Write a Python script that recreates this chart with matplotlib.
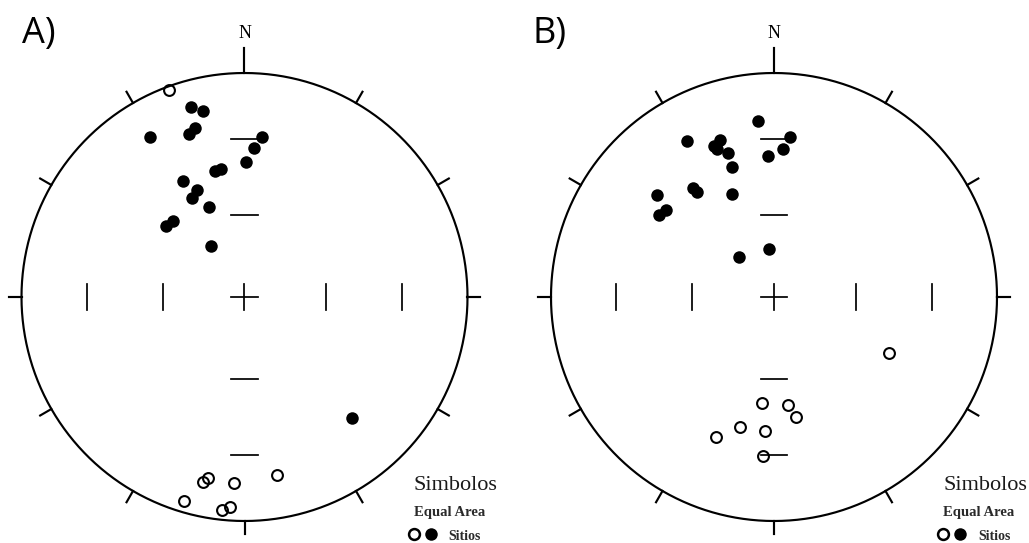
import numpy as np
import matplotlib
matplotlib.use("Agg")
import matplotlib.pyplot as plt

# ---------------- data (declination, inclination in degrees) ----------------
# positive inclination -> lower hemisphere (filled), negative -> upper (open)
dec_A = [344.1, 347.3, 329.3, 341.1, 343.7, 6.1, 3.7, 0.6, 346.7, 349.7,
         332.2, 336.0, 331.9, 338.2, 312.0, 316.6, 326.1, 138.2,
         340.0, 192.8, 191.3, 183.2, 169.5, 196.6, 186.1, 184.0]
inc_A = [13.0, 15.9, 18.1, 23.9, 22.6, 28.8, 33.9, 39.4, 41.6, 41.4,
         40.9, 46.8, 48.4, 54.3, 50.7, 51.3, 67.8, 28.3,
         -1.8, -16.4, -18.5, -17.9, -20.1, -5.6, -5.1, -6.9]

dec_B = [354.9, 5.7, 3.4, 357.4, 330.8, 338.2, 340.9, 339.0, 342.3, 342.2,
         311.1, 323.2, 323.5, 337.8, 305.5, 308.8, 319.0, 354.0,
         186.6, 172.7, 169.7, 194.7, 183.9, 202.5, 184.1, 115.8]
inc_B = [22.4, 29.0, 34.0, 37.1, 21.4, 28.2, 26.9, 29.8, 33.1, 38.8,
         31.2, 39.0, 41.4, 49.0, 36.8, 37.7, 70.5, 72.5,
         -50.6, -49.9, -44.6, -39.7, -40.0, -32.7, -29.4, -42.2]

panel_labels = ["A)", "B)"]
north_label = "N"
legend_title = "Simbolos"
legend_sub = "Equal Area"
legend_item = "Sitios"
grid_incs = [30, 60]          # inclination marks on the axes
rim_ticks = np.arange(0, 360, 30)


def proj(dec, inc):
    dec = np.radians(np.asarray(dec, float))
    inc = np.radians(np.abs(np.asarray(inc, float)))
    r = np.sqrt(2.0) * np.sin((np.pi / 2 - inc) / 2.0)
    return r * np.sin(dec), r * np.cos(dec)


W, H = 1029, 543
fig = plt.figure(figsize=(W / 100, H / 100), dpi=100)

centers = [(244.5, 297), (774.0, 297)]
Rx, Ry = 223, 224
datasets = [(dec_A, inc_A), (dec_B, inc_B)]

LW_RIM = 1.55
LW = 1.25
for (cx, cy), (dec, inc), lab in zip(centers, datasets, panel_labels):
    ax = fig.add_axes([(cx - Rx) / W, (H - cy - Ry) / H, 2 * Rx / W, 2 * Ry / H])
    ax.set_xlim(-1, 1)
    ax.set_ylim(-1, 1)
    ax.axis("off")

    # primitive circle
    t = np.linspace(0, 2 * np.pi, 721)
    ax.plot(np.cos(t), np.sin(t), color="black", lw=LW_RIM, clip_on=False, zorder=2)

    # rim ticks
    for az in rim_ticks:
        a = np.radians(az)
        L = 0.112 if az == 0 else 0.058
        ax.plot([np.sin(a), (1 + L) * np.sin(a)], [np.cos(a), (1 + L) * np.cos(a)],
                color="black", lw=LW_RIM, clip_on=False, zorder=2)

    # center cross
    h = 0.06
    ax.plot([-h, h], [0, 0], color="black", lw=LW, zorder=2)
    ax.plot([0, 0], [-h, h], color="black", lw=LW, zorder=2)
    # inclination marks
    for gi in grid_incs:
        r = np.sqrt(2.0) * np.sin(np.radians(90 - gi) / 2.0)
        for s in (-1, 1):
            ax.plot([s * r, s * r], [-h, h], color="black", lw=LW, zorder=2)
            ax.plot([-h, h], [s * r, s * r], color="black", lw=LW, zorder=2)

    # data
    dec = np.asarray(dec)
    inc = np.asarray(inc)
    x, y = proj(dec, inc)
    low = inc >= 0
    ax.plot(x[low], y[low], "o", color="black", ms=9, mew=0, clip_on=False, zorder=4)
    ax.plot(x[~low], y[~low], "o", mfc="none", mec="black", ms=7.8, mew=1.5,
            clip_on=False, zorder=4)

    # north label
    ax.text(0, 1.175, north_label, ha="center", va="center", fontsize=13,
            family="Liberation Serif", clip_on=False)

    # legend
    ax.text(0.758, -0.862, legend_title, ha="left", va="baseline", fontsize=16,
            family="Liberation Serif", color="#1a1a1a", clip_on=False)
    ax.text(0.758, -0.978, legend_sub, ha="left", va="baseline", fontsize=10.5,
            family="Liberation Serif", fontweight="bold", color="#2a2a2a", clip_on=False)
    ax.text(0.915, -1.085, legend_item, ha="left", va="baseline", fontsize=10,
            family="Liberation Serif", fontweight="bold", color="#2a2a2a", clip_on=False)
    ax.plot([0.76], [-1.06], "o", mfc="none", mec="black", ms=7.8, mew=1.8, clip_on=False)
    ax.plot([0.836], [-1.06], "o", color="black", ms=9, mew=0, clip_on=False)

fig.text(22 / W, (H - 43) / H, panel_labels[0], fontsize=26, family="Open Sans",
         ha="left", va="baseline")
fig.text(533 / W, (H - 43) / H, panel_labels[1], fontsize=26, family="Open Sans",
         ha="left", va="baseline")

fig.savefig("out.png", dpi=100, facecolor="white")
